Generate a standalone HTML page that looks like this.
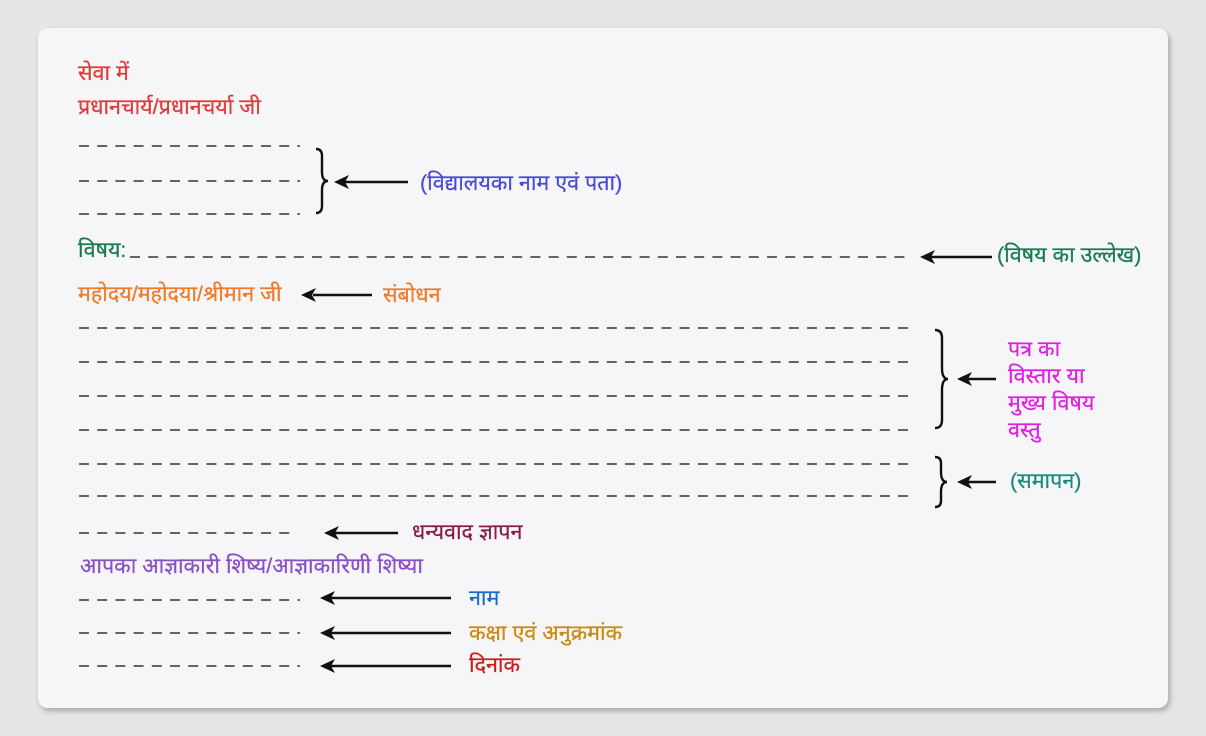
<!DOCTYPE html>
<html><head><meta charset="utf-8"><style>
html,body{margin:0;padding:0;background:#e6e6e8;}
svg{display:block;}
text{font-family:"Liberation Sans","Noto Sans Devanagari","Lohit Devanagari",sans-serif;font-size:21.5px;stroke-width:0.25px;}
</style></head><body>
<svg width="1206" height="736" viewBox="0 0 1206 736">
<defs>
<filter id="sh" x="-5%" y="-5%" width="110%" height="110%"><feDropShadow dx="2" dy="3" stdDeviation="3" flood-color="#000" flood-opacity="0.28"/></filter>
</defs>
<rect x="38" y="28" width="1130" height="680" rx="10" fill="#f6f6f8" filter="url(#sh)"/>
<g stroke="#333" stroke-width="1.5" stroke-dasharray="10 8.2" fill="none">
<path d="M79 146H300M79 181H300M79 214H300"/>
<path d="M130 257H912"/>
<path d="M79 328H914M79 362H914M79 396H914M79 430H914M79 464H914M79 496H914"/>
<path d="M79 533H296M79 600H300M79 633H300M79 666H300"/>
</g>
<g stroke="#111" stroke-width="2.4" fill="none">
<path d="M316 149 q6 0 6 7 v16 q0 9 6 9 q-6 0 -6 9 v16 q0 7 -6 7"/>
<path d="M935 330 q7 0 7 8 v30 q0 11 6 11 q-6 0 -6 11 v30 q0 8 -7 8"/>
<path d="M935 457 q6 0 6 6 v9 q0 10 6 10 q-6 0 -6 10 v9 q0 6 -6 6"/>
<path d="M408 182H344M992 257H930M313 295H372M996 379H967M996 482H967M398 533H334M451 598H330M451 633H330M451 666H330"/>
</g>
<g fill="#111">
<path d="M334 182l15-7-4 7 4 7z"/>
<path d="M920 257l15-7-4 7 4 7z"/>
<path d="M301 295l15-7-4 7 4 7z"/>
<path d="M957 379l15-7-4 7 4 7z"/>
<path d="M957 482l15-7-4 7 4 7z"/>
<path d="M324 533l15-7-4 7 4 7z"/>
<path d="M320 598l15-7-4 7 4 7z"/>
<path d="M320 633l15-7-4 7 4 7z"/>
<path d="M320 666l15-7-4 7 4 7z"/>
</g>
<text x="78" y="80" fill="#e03a3a" stroke="#e03a3a">सेवा में</text>
<text x="78" y="114" fill="#e03a3a" stroke="#e03a3a">प्रधानचार्य/प्रधानचर्या जी</text>
<text x="420" y="190" fill="#4a4ad8" stroke="#4a4ad8">(विद्यालयका नाम एवं  पता)</text>
<text x="78" y="257" fill="#1a7a50" stroke="#1a7a50">विषय:</text>
<text x="997" y="262" fill="#1a7a50" stroke="#1a7a50">(विषय का उल्लेख)</text>
<text x="78" y="301" fill="#f07a2a" stroke="#f07a2a">महोदय/महोदया/श्रीमान जी</text>
<text x="383" y="302" fill="#f07a2a" stroke="#f07a2a">संबोधन</text>
<text x="1008" y="356" fill="#e020e0" stroke="#e020e0">पत्र का</text>
<text x="1008" y="383" fill="#e020e0" stroke="#e020e0">विस्तार या</text>
<text x="1008" y="410" fill="#e020e0" stroke="#e020e0">मुख्य विषय</text>
<text x="1008" y="437" fill="#e020e0" stroke="#e020e0">वस्तु</text>
<text x="1010" y="488" fill="#1a8a80" stroke="#1a8a80">(समापन)</text>
<text x="412" y="539" fill="#8a1a4a" stroke="#8a1a4a">धन्यवाद ज्ञापन</text>
<text x="80" y="573" fill="#8a50c8" stroke="#8a50c8">आपका आज्ञाकारी शिष्य/आज्ञाकारिणी शिष्या</text>
<text x="469" y="605" fill="#1a6ac8" stroke="#1a6ac8">नाम</text>
<text x="469" y="640" fill="#c88a10" stroke="#c88a10">कक्षा एवं अनुक्रमांक</text>
<text x="469" y="672" fill="#c82020" stroke="#c82020">दिनांक</text>
</svg>
</body></html>
